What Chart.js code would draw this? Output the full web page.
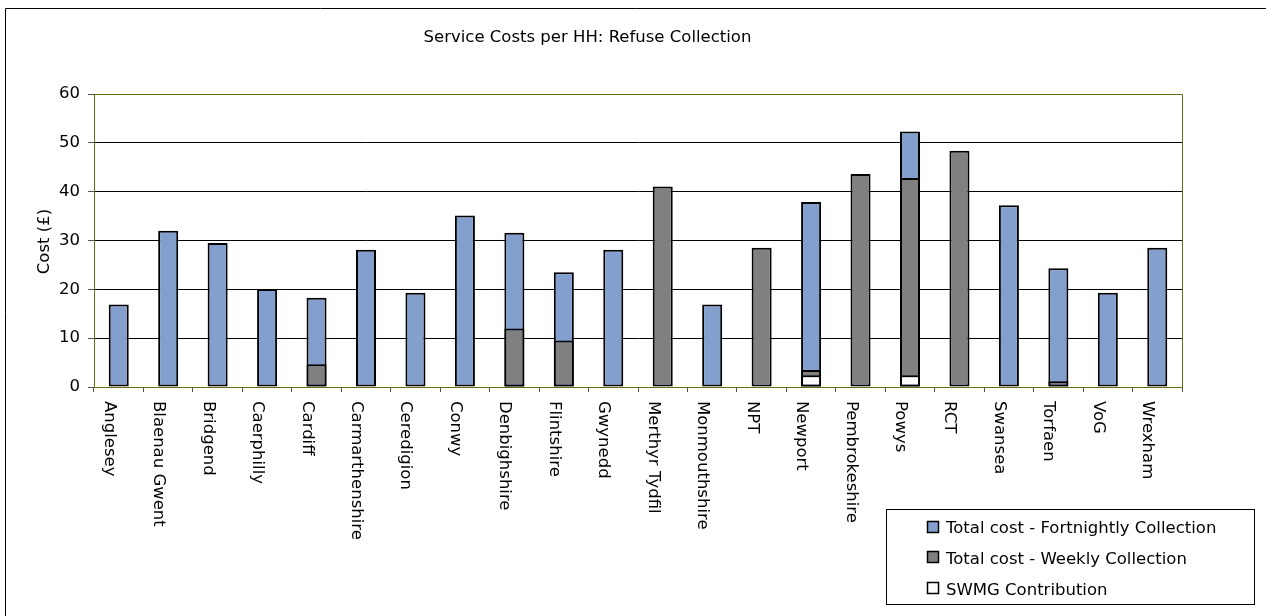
<!DOCTYPE html>
<html>
<head>
<meta charset="utf-8">
<script src="https://cdn.jsdelivr.net/npm/chart.js@4"></script>
<style>
  html, body { margin: 0; padding: 0; background: #fff; }
  #c { display: block; }
</style>
</head>
<body>
<canvas id="c" width="1266" height="616"></canvas>
<script>
const categories = ["Anglesey", "Blaenau Gwent", "Bridgend", "Caerphilly", "Cardiff", "Carmarthenshire", "Ceredigion", "Conwy", "Denbighshire", "Flintshire", "Gwynedd", "Merthyr Tydfil", "Monmouthshire", "NPT", "Newport", "Pembrokeshire", "Powys", "RCT", "Swansea", "Torfaen", "VoG", "Wrexham"];
const fortnightly = [16.9, 32.0, 29.5, 20.05, 18.3, 28.1, 19.3, 35.1, 31.6, 23.5, 28.1, null, 16.9, null, 37.9, null, 52.3, null, 37.2, 24.3, 19.3, 28.5];
const weekly = [null, null, null, null, 4.65, null, null, null, 12.0, 9.5, null, 41.05, null, 28.5, 3.5, 43.6, 42.8, 48.4, null, 1.2, null, null];
const swmg = [null, null, null, null, null, null, null, null, 0.3, null, null, null, null, null, 2.4, null, 2.4, null, null, null, null, null];
const yTicks = [0, 10, 20, 30, 40, 50, 60];
const seriesNames = ["Total cost - Fortnightly Collection", "Total cost - Weekly Collection", "SWMG Contribution"];
const chartTitle = "Service Costs per HH: Refuse Collection";
const yTitle = "Cost (£)";

const FONT = '"DejaVu Sans", sans-serif';
const BLUE = '#829fcd', GREY = '#808080', WHITE = '#ffffff';
const OLIVE = '#6b6b10';

const extras = {
  id: 'extras',
  afterDraw(chart) {
    const ctx = chart.ctx;
    const xs = chart.scales.x;
    const ca = chart.chartArea;
    ctx.save();
    // outer border
    ctx.strokeStyle = '#000';
    ctx.lineWidth = 1;
    ctx.beginPath();
    ctx.moveTo(5.5, 616); ctx.lineTo(5.5, 8.5); ctx.lineTo(1266, 8.5);
    ctx.stroke();
    // plot border top & right
    ctx.strokeStyle = OLIVE;
    ctx.beginPath();
    ctx.moveTo(ca.left, Math.round(ca.top) + 0.5);
    ctx.lineTo(Math.round(ca.right) + 0.5, Math.round(ca.top) + 0.5);
    ctx.lineTo(Math.round(ca.right) + 0.5, ca.bottom);
    ctx.stroke();

    ctx.fillStyle = '#000';
    ctx.font = '16.5px ' + FONT;
    // title
    ctx.textAlign = 'center';
    ctx.textBaseline = 'alphabetic';
    ctx.fillText(chartTitle, 587.5, 42);
    // y title
    ctx.save();
    ctx.translate(49, 241.5);
    ctx.rotate(-Math.PI / 2);
    ctx.textAlign = 'center';
    ctx.textBaseline = 'alphabetic';
    ctx.fillText(yTitle, 0, 0);
    ctx.restore();
    // x labels (rotated clockwise)
    categories.forEach((lab, i) => {
      const x = xs.getPixelForValue(i);
      ctx.save();
      ctx.translate(x - 14, 401);
      ctx.rotate(Math.PI / 2);
      ctx.textAlign = 'left';
      ctx.textBaseline = 'alphabetic';
      ctx.fillText(lab, 0, 0);
      ctx.restore();
    });
    // legend
    ctx.fillStyle = '#fff';
    ctx.fillRect(886.5, 509.5, 368, 95);
    ctx.strokeStyle = '#000';
    ctx.strokeRect(886.5, 509.5, 368, 95);
    const fills = [BLUE, GREY, WHITE];
    const baselines = [533, 564, 594.5];
    const centers = [526.7, 557.3, 588];
    seriesNames.forEach((name, i) => {
      ctx.fillStyle = fills[i];
      ctx.fillRect(927.5, Math.round(centers[i] - 6) + 0.5, 11, 11);
      ctx.strokeStyle = '#000';
      ctx.lineWidth = 1.5;
      ctx.strokeRect(927.5, Math.round(centers[i] - 6) + 0.5, 11, 11);
      ctx.fillStyle = '#000';
      ctx.textAlign = 'left';
      ctx.textBaseline = 'alphabetic';
      ctx.fillText(name, 946, baselines[i]);
    });
    ctx.restore();
  }
};

const common = { borderColor: '#000', borderWidth: 2, borderSkipped: false, barPercentage: 0.405, categoryPercentage: 1 };

new Chart(document.getElementById('c'), {
  type: 'bar',
  data: {
    labels: categories,
    datasets: [
      Object.assign({ label: seriesNames[0], data: fortnightly, backgroundColor: BLUE, order: 3 }, common),
      Object.assign({ label: seriesNames[1], data: weekly, backgroundColor: GREY, order: 2 }, common),
      Object.assign({ label: seriesNames[2], data: swmg, backgroundColor: WHITE, order: 1 }, common)
    ]
  },
  options: {
    responsive: false,
    devicePixelRatio: 1,
    animation: false,
    layout: { padding: { left: 0, top: 94, right: 84, bottom: 0 } },
    plugins: { legend: { display: false }, title: { display: false }, tooltip: { enabled: false } },
    scales: {
      x: {
        stacked: true,
        ticks: { display: false },
        grid: { drawOnChartArea: false, tickLength: 5, color: '#555', offset: true },
        border: { color: OLIVE, width: 1 },
        afterFit(s) { s.height = 229; }
      },
      y: {
        stacked: false,
        min: 0, max: 60,
        afterBuildTicks(s) { s.ticks = yTicks.map(v => ({ value: v })); },
        ticks: { padding: 8, color: '#000', font: { family: FONT, size: 16.5 } },
        grid: { color: '#000', lineWidth: 1, tickLength: 6, tickColor: '#555' },
        border: { color: OLIVE, width: 1 },
        afterFit(s) { s.width = 94; }
      }
    }
  },
  plugins: [extras]
});
</script>
</body>
</html>
